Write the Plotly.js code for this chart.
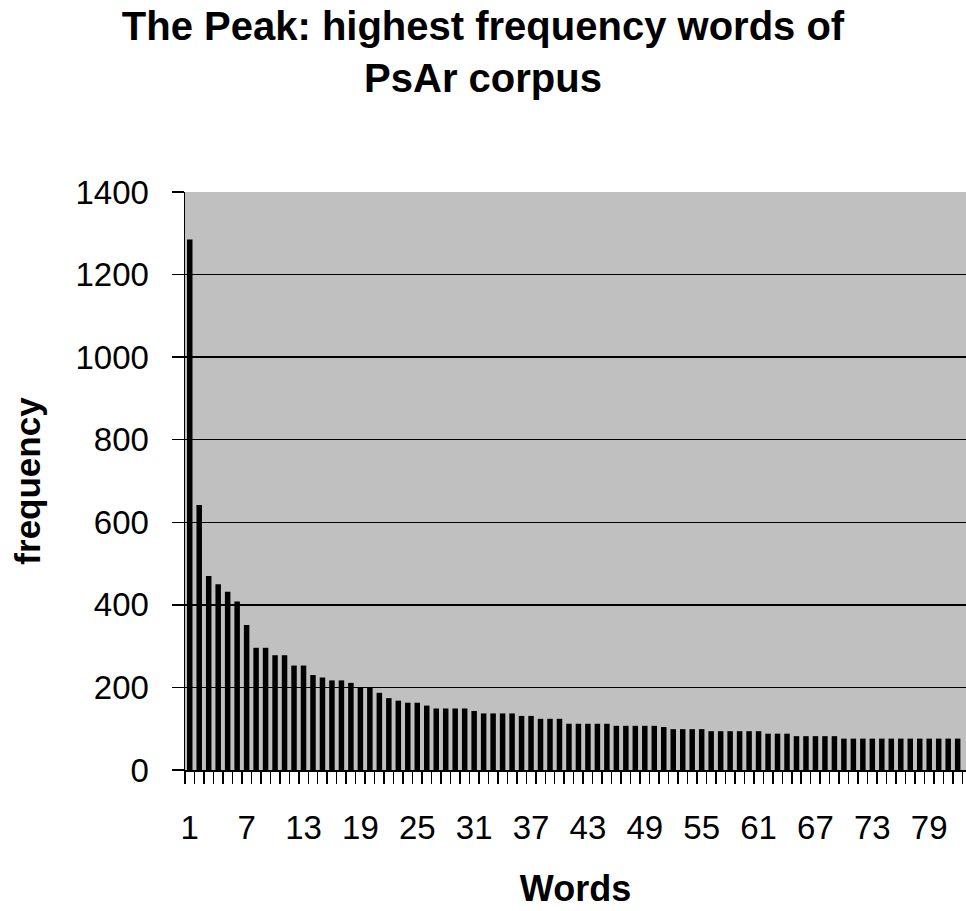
<!DOCTYPE html>
<html>
<head>
<meta charset="utf-8">
<script src="https://cdn.plot.ly/plotly-3.0.1.min.js"></script>
<style>html,body{margin:0;padding:0;background:#fff;}#chart{width:966px;height:911px;}</style>
</head>
<body>
<div id="chart"></div>
<script>
// Word rank (x) and frequency (y)
const words = [];
for (let i = 1; i <= 82; i++) words.push(i);
const frequency = [1285, 642, 470, 450, 432, 408, 351, 296, 296, 278,
  278, 253, 253, 230, 224, 217, 217, 211, 201, 201,
  187, 174, 168, 163, 163, 156, 149, 149, 149, 149,
  143, 137, 137, 137, 137, 131, 131, 124, 124, 124,
  112, 112, 112, 112, 112, 107, 107, 107, 107, 107,
  104, 99, 99, 99, 99, 94, 94, 94, 94, 94,
  94, 88, 88, 88, 82, 82, 82, 82, 82, 76,
  76, 76, 76, 76, 76, 76, 76, 76, 76, 76,
  76, 76];
const xTickVals = [1, 7, 13, 19, 25, 31, 37, 43, 49, 55, 61, 67, 73, 79];
const yTickVals = [0, 200, 400, 600, 800, 1000, 1200, 1400];

const FONT = 'Arial, "Liberation Sans", sans-serif';

Plotly.newPlot('chart', [{
  type: 'bar',
  x: words,
  y: frequency,
  width: 0.58,
  marker: {color: '#000000', line: {width: 0}},
  hoverinfo: 'x+y'
}], {
  width: 966,
  height: 911,
  margin: {l: 185, r: 0, t: 192, b: 141, pad: 0},
  paper_bgcolor: '#ffffff',
  plot_bgcolor: '#c0c0c0',
  showlegend: false,
  font: {family: FONT, color: '#000000'},
  title: {
    text: '<b>The Peak: highest frequency words of<br>PsAr corpus</b>',
    font: {family: FONT, size: 40, color: '#000000'},
    x: 0.5, xref: 'container', xanchor: 'center',
    y: 1 - 40 / 911, yref: 'container', yanchor: 'middle'
  },
  xaxis: {
    type: 'linear',
    range: [0.5, 82.88],
    tickmode: 'array',
    tickvals: xTickVals,
    ticktext: xTickVals.map(String),
    ticks: '',
    ticklabelstandoff: 28,
    tickfont: {family: FONT, size: 33, color: '#000000'},
    minor: {tick0: 0.5, dtick: 1, ticks: 'outside', ticklen: 12, tickwidth: 1.5, tickcolor: '#000000', showgrid: false},
    showgrid: false,
    zeroline: false,
    showline: true,
    linecolor: '#000000',
    linewidth: 1.5,
    title: {text: '<b>Words</b>', font: {family: FONT, size: 36, color: '#000000'}, standoff: 30}
  },
  yaxis: {
    range: [0, 1400],
    tickmode: 'array',
    tickvals: yTickVals,
    ticks: 'outside',
    ticklen: 12,
    tickwidth: 1.5,
    tickcolor: '#000000',
    ticklabelstandoff: 16,
    tickfont: {family: FONT, size: 33, color: '#000000'},
    showgrid: true,
    gridcolor: '#000000',
    gridwidth: 1.5,
    zeroline: false,
    showline: true,
    linecolor: '#000000',
    linewidth: 1.5,
    title: {text: '<b>frequency</b>', font: {family: FONT, size: 35, color: '#000000'}, standoff: 24}
  },
  bargap: 0.42
}, {displayModeBar: false, staticPlot: true});
</script>
</body>
</html>
